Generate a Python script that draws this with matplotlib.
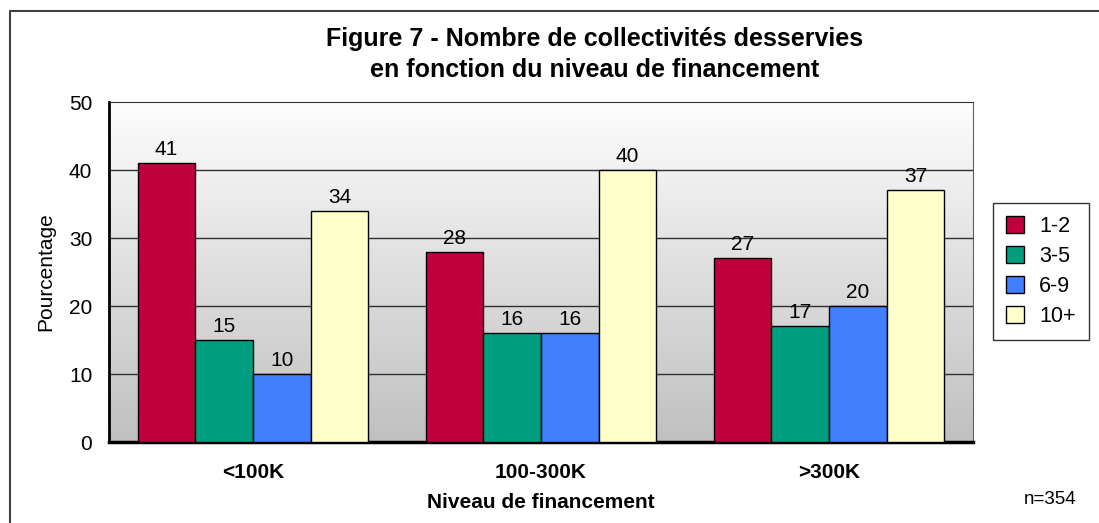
import numpy as np
import matplotlib.pyplot as plt
from matplotlib.lines import Line2D
from matplotlib.colors import LinearSegmentedColormap

categories = ['<100K', '100-300K', '>300K']
series = ['1-2', '3-5', '6-9', '10+']
values = {
    '1-2': [41, 28, 27],
    '3-5': [15, 16, 17],
    '6-9': [10, 16, 20],
    '10+': [34, 40, 37],
}
colors = ['#C0003C', '#009E80', '#4080FF', '#FFFFCC']

W, H = 1099, 523
fig = plt.figure(figsize=(W / 100, H / 100), dpi=100)
plt.rcParams['font.family'] = ['Liberation Sans', 'DejaVu Sans']

# outer border (only left/top edges visible in the original)
bx, by = 10 / W, 1 - 11 / H
fig.add_artist(Line2D([bx, bx, 1.0], [0.0, by, by], transform=fig.transFigure,
                      color='#404040', lw=1.5))

ax = fig.add_axes([109 / W, 1 - 442 / H, 864 / W, 340 / H])

# gradient background, light at top
bg = LinearSegmentedColormap.from_list('bg', ['#FDFDFD', '#C0C0C0'])
grad = np.linspace(0, 1, 256).reshape(-1, 1)
ax.imshow(grad, extent=[-0.5, 2.5, 0, 50], aspect='auto', cmap=bg,
          vmin=0, vmax=1, origin='upper', zorder=0)

x = np.arange(len(categories))
bw = 0.2
for i, (s, c) in enumerate(zip(series, colors)):
    pos = x - 0.3 + i * bw
    bars = ax.bar(pos, values[s], bw, color=c, edgecolor='black',
                  linewidth=1, label=s, zorder=3)
    for b, v in zip(bars, values[s]):
        ax.text(b.get_x() + bw / 2, v + 0.6, str(v), ha='center',
                va='bottom', fontsize=15, zorder=4)

ax.set_xlim(-0.5, 2.5)
ax.set_ylim(0, 50)
ax.set_yticks(range(0, 51, 10))
for y in range(10, 50, 10):
    ax.axhline(y, color='#303030', lw=1, zorder=1)
ax.tick_params(axis='y', length=0, pad=12, labelsize=15)
ax.tick_params(axis='x', length=0, pad=15)
ax.set_xticks(x)
ax.set_xticklabels(categories, fontsize=15, fontweight='bold')

ax.spines['left'].set_linewidth(2)
ax.spines['bottom'].set_linewidth(2.5)
ax.spines['top'].set_color('#303030')
ax.spines['right'].set_color('#606060')

ax.set_xlabel('Niveau de financement', fontsize=15, fontweight='bold',
              labelpad=8)
ax.set_ylabel('Pourcentage', fontsize=15, labelpad=10)

fig.text(595 / W, 1 - 46 / H, 'Figure 7 - Nombre de collectivités desservies',
         ha='center', va='baseline', fontsize=18, fontweight='bold')
fig.text(595 / W, 1 - 77 / H, 'en fonction du niveau de financement',
         ha='center', va='baseline', fontsize=18, fontweight='bold')
fig.text(1050 / W, 1 - 500 / H, 'n=354', ha='center', va='center',
         fontsize=13.5)

leg = fig.legend(loc='upper left', bbox_to_anchor=(993 / W, 1 - 203 / H),
                 frameon=True, fancybox=False, fontsize=15.5,
                 handlelength=0.85, handleheight=0.85, handletextpad=0.7,
                 borderpad=0.6, labelspacing=0.42, borderaxespad=0)
leg.get_frame().set_edgecolor('black')
leg.get_frame().set_linewidth(1)

fig.savefig('out.png', dpi=100)
